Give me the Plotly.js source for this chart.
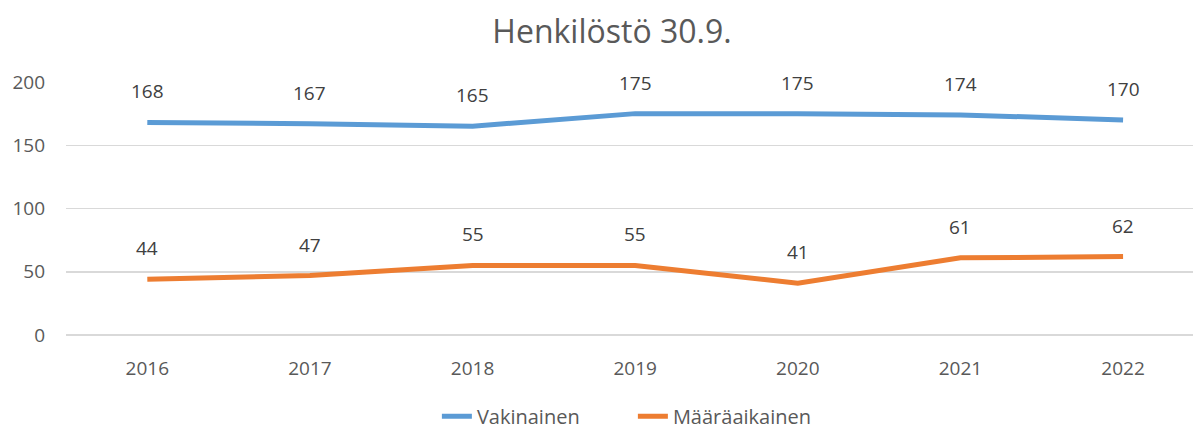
<!DOCTYPE html>
<html><head><meta charset="utf-8">
<script src="https://cdn.plot.ly/plotly-3.0.1.min.js"></script>
<style>html,body{margin:0;padding:0;background:#fff}#chart{width:1193px;height:429px}</style>
</head><body><div id="chart"></div>
<script>
const years = ['2016','2017','2018','2019','2020','2021','2022'];
const vakinainen = [168,167,165,175,175,174,170];
const maaraaikainen = [44,47,55,55,41,61,62];
const seriesNames = ['Vakinainen','Määräaikainen'];
const colors = ['#5B9BD5','#ED7D31'];
const font = 'Open Sans, Noto Sans, sans-serif';

const traces = [vakinainen, maaraaikainen].map((vals,i)=>({
  x: years, y: vals, type:'scatter', mode:'lines', name: seriesNames[i],
  line:{color:colors[i], width:5}, hoverinfo:'skip'
}));
const annotations = [];
[vakinainen, maaraaikainen].forEach(vals=>{
  vals.forEach((v,j)=>annotations.push({x:j, y:v, xref:'x', yref:'y', text:String(v),
    showarrow:false, yshift:31, font:{family:font, size:19, color:'#404040'}}));
});
const layout = {
  width:1193, height:429,
  margin:{l:66, r:0, t:82, b:94},
  paper_bgcolor:'#fff', plot_bgcolor:'#fff',
  title:{text:'Henkilöstö 30.9.', x:0.513, xanchor:'center', y:0.925, yanchor:'middle',
    font:{family:font, size:32, color:'#595959'}},
  xaxis:{type:'category', range:[-0.5,6.43], showgrid:false, zeroline:false, showline:false,
    ticks:'', ticklabelstandoff:20, automargin:false, tickfont:{family:font, size:19, color:'#595959'}},
  yaxis:{range:[0,200], tickvals:[0,50,100,150,200], showgrid:true, gridcolor:'#D9D9D9', gridwidth:1.5,
    zeroline:true, zerolinecolor:'#D9D9D9', zerolinewidth:1.5, showline:false, ticks:'', automargin:false,
    ticklabelstandoff:20, tickfont:{family:font, size:19, color:'#595959'}},
  showlegend:true,
  legend:{orientation:'h', x:0.503, xanchor:'center', yref:'container', y:0.03, yanchor:'middle',
    entrywidth:151, entrywidthmode:'pixels',
    font:{family:font, size:20, color:'#595959'}},
  annotations: annotations
};
Plotly.newPlot('chart', traces, layout, {staticPlot:true, displayModeBar:false});
</script></body></html>
